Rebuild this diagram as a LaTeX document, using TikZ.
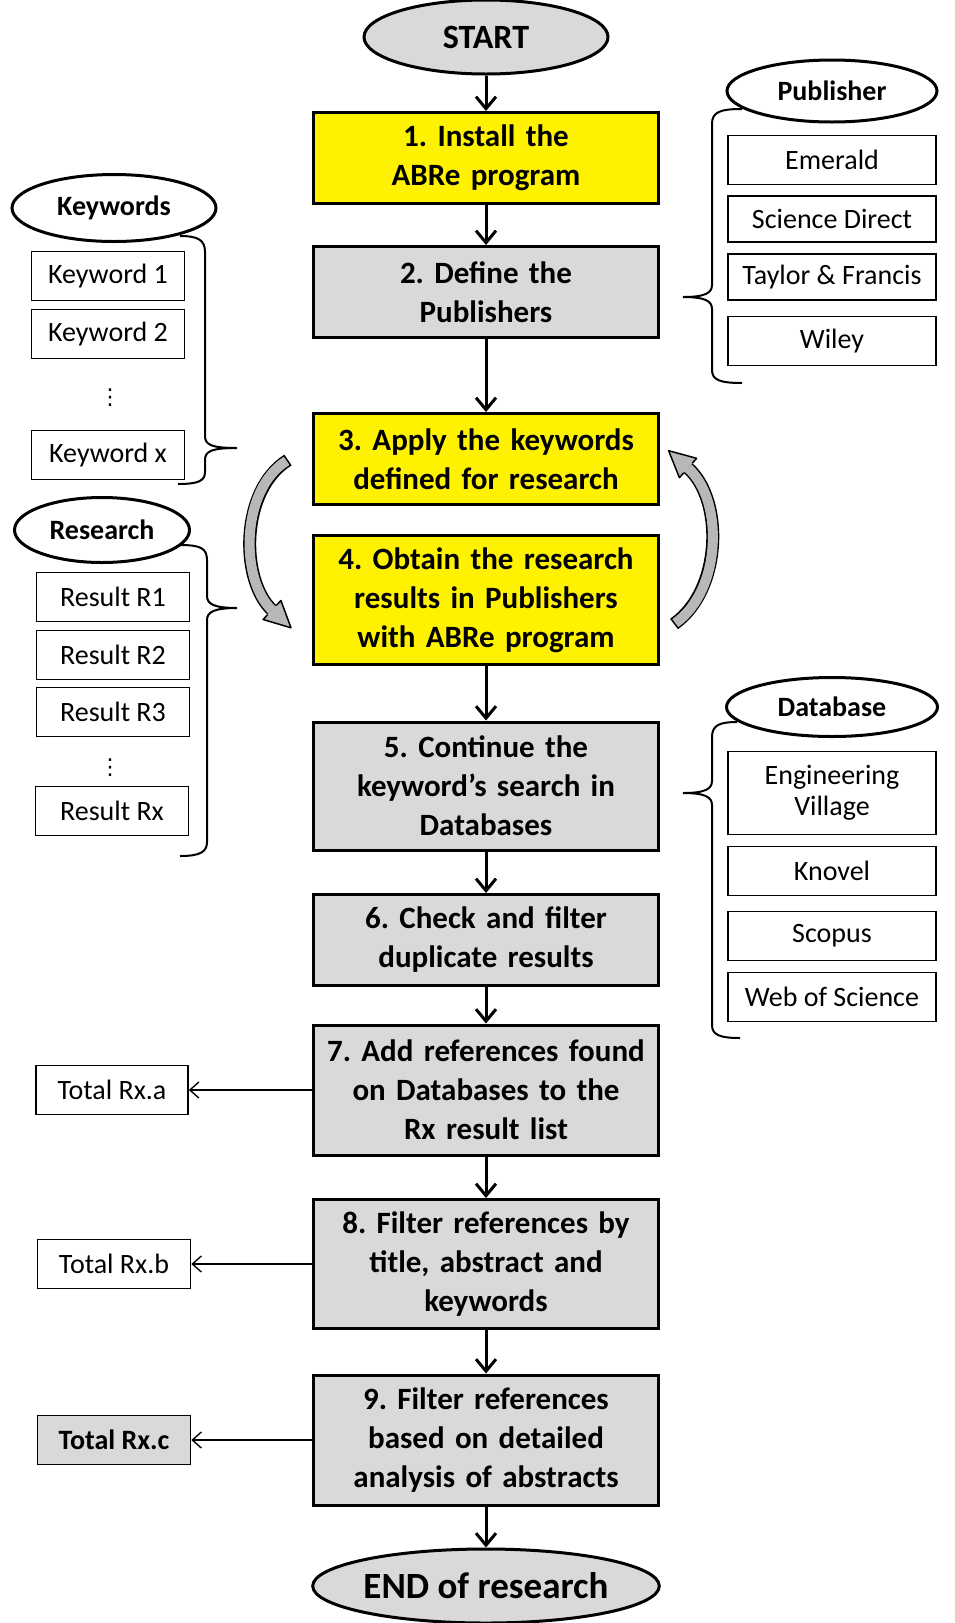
\documentclass[tikz,border=0pt]{standalone}
\usepackage{amsmath}
\usepackage{amssymb}
\usepackage{fontspec}
\setmainfont{Carlito}
\newfontfamily\symfont{DejaVu Sans}
\usepackage{tikz}
\usetikzlibrary{shapes, arrows.meta, positioning}
\frenchspacing
\definecolor{boxgray}{gray}{0.85}
\definecolor{arrowgray}{gray}{0.72}
\tikzstyle{->}      = [draw, line width=1.5pt, -{Straight Barb[length=6pt, width=10pt]}]
\tikzstyle{side}    = [draw, line width=0.7pt, -{Straight Barb[length=4.5pt, width=8pt]}]
\tikzstyle{stepbox} = [draw, rectangle, line width=1.5pt, inner sep=0pt, text width=172.5pt,
                       minimum height=45.5pt, align=center, font=\bfseries\fontsize{15.5}{19.5}\selectfont]
\tikzstyle{o}       = [draw, ellipse, line width=1.5pt, inner sep=0pt, fill=white,
                       font=\bfseries\fontsize{14}{16}\selectfont]
\tikzstyle{item}    = [draw, rectangle, line width=0.8pt, inner sep=0pt, minimum width=76.5pt,
                       minimum height=24.5pt, align=center, font=\fontsize{14}{15.5}\selectfont]
\tikzstyle{dots}    = [inner sep=0pt, font=\symfont\fontsize{11}{12}\selectfont]
\tikzstyle{brace}   = [draw, line width=1pt]

\begin{document}
\begin{tikzpicture}[x=0.5pt, y=-0.5pt]
\useasboundingbox (0,0) rectangle (954,1623);

% main steps
\node [o, fill=boxgray, minimum width=122pt, minimum height=37pt,
       font=\bfseries\fontsize{17}{20}\selectfont] at ( 486 ,   37 ) (start) {START};
\node [stepbox, fill=yellow]                        at ( 486 ,  158 ) (b1) {1. Install the\\ABRe program};
\node [stepbox, fill=boxgray]                       at ( 486 ,  292 ) (b2) {2. Define the\\Publishers};
\node [stepbox, fill=yellow]                        at ( 486 ,  459 ) (b3) {3. Apply the keywords\\defined for research};
\node [stepbox, fill=yellow, minimum height=64.5pt] at ( 486 ,  600 ) (b4) {4. Obtain the research\\results in Publishers\\with ABRe program};
\node [stepbox, fill=boxgray, minimum height=64pt]  at ( 486 ,  786 ) (b5) {5. Continue the\\keyword's search in\\Databases};
\node [stepbox, fill=boxgray]                       at ( 486 ,  940 ) (b6) {6. Check and filter\\duplicate results};
\node [stepbox, fill=boxgray, minimum height=65pt]  at ( 486 , 1090 ) (b7) {7. Add references found\\on Databases to the\\Rx result list};
\node [stepbox, fill=boxgray, minimum height=64.5pt] at ( 486 , 1264 ) (b8) {8. Filter references by\\title, abstract and\\keywords};
\node [stepbox, fill=boxgray, minimum height=65pt]  at ( 486 , 1440 ) (b9) {9. Filter references\\based on detailed\\analysis of abstracts};
\node [o, fill=boxgray, minimum width=170pt, minimum height=37pt,
       font=\bfseries\fontsize{18.5}{21}\selectfont] at ( 486 , 1586 ) (end) {END of research};

% keywords
\node [o, minimum width=102pt, minimum height=33.5pt] at ( 114 , 208 ) (keywords) {Keywords};
\node [item]                                          at ( 108 , 276 ) (kw1)      {Keyword 1};
\node [item]                                          at ( 108 , 334 ) (kw2)      {Keyword 2};
\node [dots]                                          at ( 110 , 398 ) (kwdots)   {⋮};
\node [item]                                          at ( 108 , 455 ) (kwx)      {Keyword x};

% research
\node [o, minimum width=87.5pt, minimum height=32.5pt] at ( 102 , 530 ) (research) {Research};
\node [item]                                           at ( 113 , 597 ) (r1)       {Result R1};
\node [item]                                           at ( 113 , 655 ) (r2)       {Result R2};
\node [item]                                           at ( 113 , 712 ) (r3)       {Result R3};
\node [dots]                                           at ( 110 , 768 ) (rdots)    {⋮};
\node [item]                                           at ( 112 , 811 ) (rx)       {Result Rx};

% publishers
\node [o, minimum width=105pt, minimum height=31pt] at ( 832 ,  91 ) (publisher) {Publisher};
\node [item, minimum width=104pt]                   at ( 832 , 160 ) (emerald)   {Emerald};
\node [item, minimum width=104pt, minimum height=23pt] at ( 832 , 219 ) (scidirect) {Science Direct};
\node [item, minimum width=104pt, minimum height=23pt] at ( 832 , 277 ) (taylor)    {Taylor \& Francis};
\node [item, minimum width=104pt]                   at ( 832 , 341 ) (wiley)     {Wiley};

% databases
\node [o, minimum width=105.5pt, minimum height=29.5pt] at ( 832 , 707 ) (database) {Database};
\node [item, minimum width=104pt, minimum height=41.5pt] at ( 832 , 793 ) (engvil)   {Engineering\\Village};
\node [item, minimum width=104pt]                   at ( 832 , 871 ) (knovel)  {Knovel};
\node [item, minimum width=104pt]                   at ( 832 , 936 ) (scopus)  {Scopus};
\node [item, minimum width=104pt]                   at ( 832 , 997 ) (wos)     {Web of Science};

% totals
\node [item, minimum width=76pt]                     at ( 112 , 1090 ) (ta) {Total Rx.a};
\node [item]                                         at ( 114 , 1264 ) (tb) {Total Rx.b};
\node [item, fill=boxgray, font=\bfseries\fontsize{14}{15.5}\selectfont] at ( 114 , 1440 ) (tc) {Total Rx.c};

%  edges
\path [->] (start) edge (b1)
           (b1)    edge (b2)
           (b2)    edge (b3)
           (b4)    edge (b5)
           (b5)    edge (b6)
           (b6)    edge (b7)
           (b7)    edge (b8)
           (b8)    edge (b9)
           (b9)    edge (end);

\path [side] (b7) edge (ta)
             (b8) edge (tb)
             (b9) edge (tc);

% braces
\draw [brace] (180,236) .. controls (198,236) and (205,240) .. (205,252) -- (205,436)
              .. controls (205,445) and (212,448) .. (237,448)
              .. controls (212,448) and (205,451) .. (205,460) -- (205,472)
              .. controls (205,481) and (198,484) .. (178,484);
\draw [brace] (180,545) .. controls (200,545) and (207,548) .. (207,560) -- (207,596)
              .. controls (207,604) and (214,608) .. (237,608)
              .. controls (214,608) and (207,612) .. (207,620) -- (207,842)
              .. controls (207,852) and (200,856) .. (180,856);
\draw [brace] (742,109) .. controls (720,109) and (712,112) .. (712,124) -- (712,285)
              .. controls (712,293) and (705,297) .. (683,297)
              .. controls (705,297) and (712,301) .. (712,309) -- (712,370)
              .. controls (712,380) and (720,383) .. (742,383);
\draw [brace] (737,722) .. controls (720,722) and (712,725) .. (712,737) -- (712,781)
              .. controls (712,789) and (705,793) .. (683,793)
              .. controls (705,793) and (712,797) .. (712,805) -- (712,1025)
              .. controls (712,1035) and (720,1038) .. (740,1038);

% loop arrows between 3 and 4
\draw [line width=6.5pt] (288,460) .. controls (240,490) and (240,580) .. (272,610);
\draw [line width=5pt, arrowgray, shorten <=0.8pt] (288,460) .. controls (240,490) and (240,580) .. (272,610);
\fill [arrowgray] (263.1,619.5) -- (291,627.8) -- (280.9,600.5) -- cycle;
\draw [line width=0.75pt, line join=round] (267.6,614.7) -- (263.1,619.5) -- (291,627.8) -- (280.9,600.5) -- (276.4,605.3);

\draw [line width=6.5pt] (674,624) .. controls (722,590) and (724,500) .. (688,468);
\draw [line width=5pt, arrowgray, shorten <=0.8pt] (674,624) .. controls (722,590) and (724,500) .. (688,468);
\fill [arrowgray] (696.6,458.3) -- (668.6,450.7) -- (679.4,477.7) -- cycle;
\draw [line width=0.75pt, line join=round] (692.3,463.2) -- (696.6,458.3) -- (668.6,450.7) -- (679.4,477.7) -- (683.7,472.9);

\end{tikzpicture}
\end{document}
